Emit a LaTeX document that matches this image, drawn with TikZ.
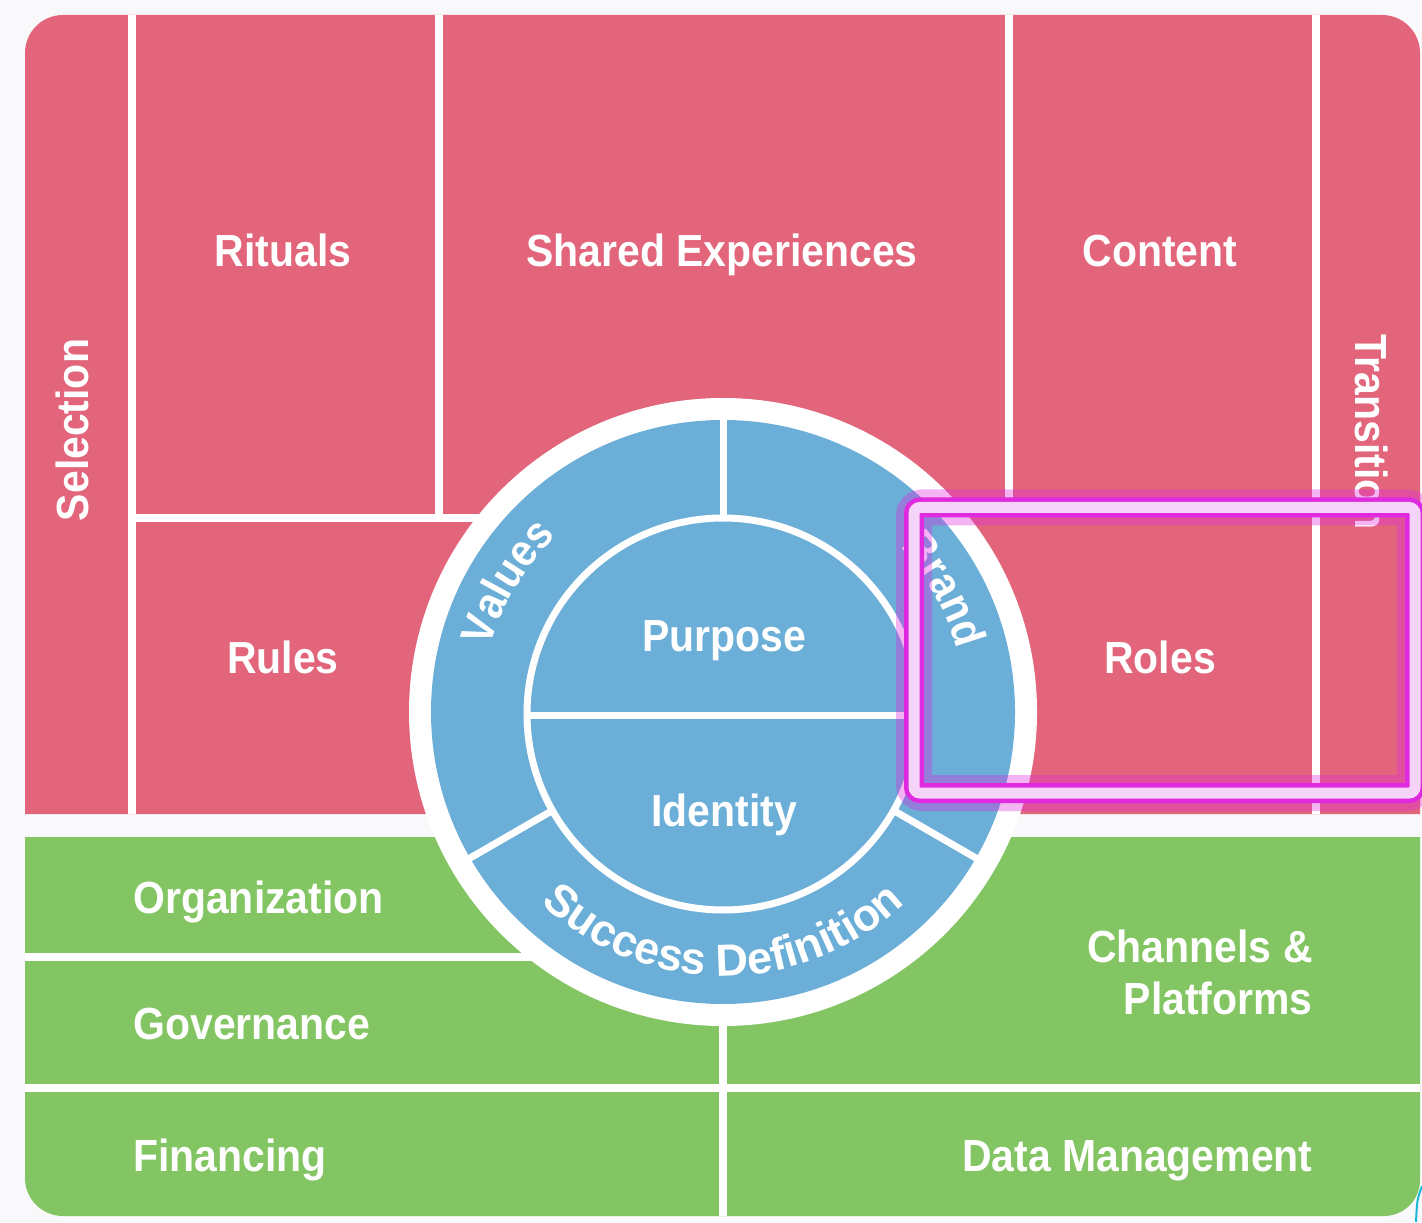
\documentclass[tikz,border=0pt]{standalone}
\usepackage{fontspec}
\usetikzlibrary{decorations.text}
\newfontfamily\labfam[FakeStretch=0.91]{Liberation Sans}
\newfontfamily\ringfam{Liberation Sans}
\newcommand\lbf{\labfam\bfseries\fontsize{22.5pt}{27pt}\selectfont}
\newcommand\rbf{\ringfam\bfseries\fontsize{22.5pt}{27pt}\selectfont}
\definecolor{bgc}{HTML}{F9F9FB}
\definecolor{pinkc}{HTML}{E2657B}
\definecolor{bluec}{HTML}{6BAED8}
\definecolor{greenc}{HTML}{83C562}
\definecolor{magc}{HTML}{E02AE0}
\definecolor{bandc}{HTML}{F6D3F8}
\definecolor{cyanc}{HTML}{18B8D8}
\begin{document}
\begin{tikzpicture}[x=0.5pt,y=0.5pt,
  wline/.style={white, line width=4pt},
  rline/.style={white, line width=3.5pt},
  lbl/.style={text=white, font=\lbf, inner sep=0pt}]
\useasboundingbox (0,0) rectangle (1422,1222);
\fill[bgc] (0,0) rectangle (1422,1222);
% pink block
\fill[pinkc] (25,408) -- (25,1169) arc[start angle=180,end angle=90,radius=38]
  -- (1382,1207) arc[start angle=90,end angle=0,radius=38] -- (1420,408) -- cycle;
% green block
\fill[greenc] (25,385) -- (1420,385) -- (1420,42) arc[start angle=0,end angle=-90,radius=36]
  -- (63,6) arc[start angle=270,end angle=180,radius=38] -- cycle;
% pink separators
\draw[wline] (132,408) -- (132,1207);
\draw[wline] (439,704) -- (439,1207);
\draw[wline] (1009,712) -- (1009,1207);
\draw[wline] (1316,408) -- (1316,1207);
\draw[wline] (132,704) -- (723,704);
\draw[wline] (723,712) -- (1316,712);
% green separators
\draw[wline] (25,265) -- (723,265);
\draw[wline] (25,134) -- (1420,134);
\draw[wline] (723,6) -- (723,510);
% circle
\coordinate (C) at (723,510);
\fill[white] (C) circle[radius=314];
\fill[bluec] (C) circle[radius=292];
\draw[rline] (723,508) circle[radius=196];
\draw[rline] (527,507) -- (919,507);
\draw[rline] (C) ++(90:194) -- ++(90:100);
\draw[rline] (C) ++(210:194) -- ++(210:100);
\draw[rline] (C) ++(330:194) -- ++(330:100);
% labels
\node[lbl, anchor=base] (rit) at (283,955) {Rituals};
\node[lbl, anchor=base] (shx) at (722,955) {Shared Experiences};
\node[lbl, anchor=base] (con) at (1160,955) {Content};
\node[lbl, anchor=base] (rul) at (283,549) {Rules};
\node[lbl, anchor=base] (rol) at (1160,549) {Roles};
\node[lbl, anchor=base, rotate=90] (sel) at (88,792) {Selection};
\node[lbl, anchor=base, rotate=-90] (tra) at (1355,790) {Transition};
\node[lbl, anchor=base] (pur) at (724,571) {Purpose};
\node[lbl, anchor=base] (ide) at (724,396) {Identity};
\node[lbl, anchor=base west] (org) at (133,309) {Organization};
\node[lbl, anchor=base west] (gov) at (133,183) {Governance};
\node[lbl, anchor=base west] (fin) at (133,51) {Financing};
\node[lbl, anchor=base east] (ch1) at (1313,260) {Channels \&};
\node[lbl, anchor=base east] (ch2) at (1313,208) {Platforms};
\node[lbl, anchor=base east] (dat) at (1313,51) {Data Management};
% ring texts
\path[decorate, decoration={text along path, text={|\lbf|Values}, text align=center, text color=white}]
  ([shift={(184:242)}]C) arc[start angle=184, end angle=114, radius=242];
\path[decorate, decoration={text along path, text={|\lbf|Brand}, text align=center, text color=white}]
  ([shift={(64:242)}]C) arc[start angle=64, end angle=-6, radius=242];
\path[decorate, decoration={text along path, text={|\rbf|Success Definition}, text align=center, text color=white}]
  ([shift={(195:264)}]C) arc[start angle=195, end angle=345, radius=264];
% highlight box
\draw[magc, opacity=0.35, line width=18pt, rounded corners=4pt] (914,714.5) rectangle (1415,429);
\draw[magc, line width=10pt, rounded corners=3pt] (914,714.5) rectangle (1415,429);
\draw[bandc, line width=5.5pt, rounded corners=3pt] (914,714.5) rectangle (1415,429);
% small cyan stroke at the corner
\draw[cyanc, line width=1pt] (1422,36) .. controls (1417,22) .. (1416,0);
\end{tikzpicture}
\end{document}
